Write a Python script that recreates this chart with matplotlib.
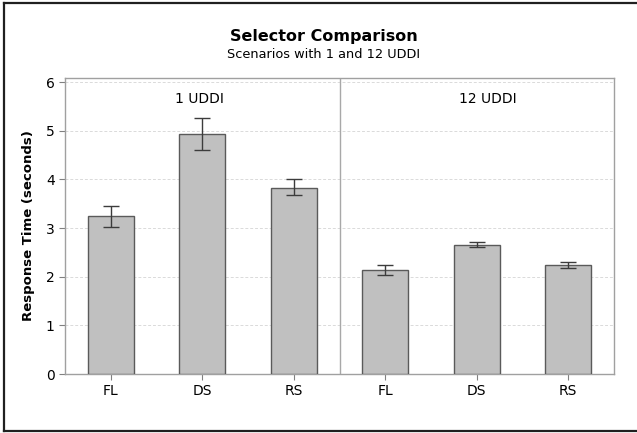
import matplotlib
matplotlib.use("Agg")
import matplotlib.pyplot as plt
from matplotlib.lines import Line2D
import numpy as np

# Mean response times and error bar extents, grouped by number of UDDI registries
selectors = ["FL", "DS", "RS", "FL", "DS", "RS"]
means = [3.25, 4.94, 3.83, 2.13, 2.66, 2.24]
err_low = [3.03, 4.61, 3.67, 2.03, 2.61, 2.17]
err_high = [3.46, 5.26, 4.00, 2.24, 2.72, 2.31]
panel_labels = ["1 UDDI", "12 UDDI"]
y_ticks = [0, 1, 2, 3, 4, 5, 6]

plt.rcParams["font.family"] = ["DejaVu Sans"]

W, H = 637, 433
fig = plt.figure(figsize=(W / 100, H / 100), dpi=100)
fig.patch.set_facecolor("white")

ax = fig.add_axes([65 / W, 1 - 374 / H, (614 - 65) / W, (374 - 77.7) / H])

x = np.arange(len(selectors))
means_a = np.array(means)
yerr = np.vstack([means_a - np.array(err_low), np.array(err_high) - means_a])

ax.bar(x, means, width=0.5, color="#c0c0c0", edgecolor="#5a5a5a",
       linewidth=1.0, zorder=3)
ax.errorbar(x, means, yerr=yerr, fmt="none", ecolor="#3c3c3c",
            elinewidth=1.0, capsize=5.8, capthick=1.0, zorder=4)

ax.set_xlim(-0.5, len(selectors) - 0.5)
ax.set_ylim(0, 6.09)
ax.set_yticks(y_ticks)
ax.set_xticks(x)
ax.set_xticklabels(selectors)

ax.yaxis.grid(True, linestyle=(0, (3, 2)), color="#dadada", linewidth=0.7, zorder=0)
ax.set_axisbelow(True)

# separator between the two scenario panels
ax.axvline(2.5, color="#a8a8a8", linewidth=1.0, zorder=2)

for s in ax.spines.values():
    s.set_color("#a0a0a0")
    s.set_linewidth(1.0)

ax.tick_params(axis="both", colors="#808080", length=4, width=0.8,
               labelcolor="black", labelsize=10)

ax.set_ylabel("Response Time (seconds)", fontsize=9.5, fontweight="bold", labelpad=8)

ax.text(0.97, 5.66, panel_labels[0], ha="center", va="center", fontsize=10)
ax.text(4.12, 5.66, panel_labels[1], ha="center", va="center", fontsize=10)

fig.text(324 / W, 1 - 36 / H, "Selector Comparison", ha="center", va="center",
         fontsize=11.5, fontweight="bold")
fig.text(324 / W, 1 - 55 / H, "Scenarios with 1 and 12 UDDI", ha="center",
         va="center", fontsize=9.3)

# window frame around the chart
frame = dict(color="#202020", linewidth=1.6, transform=fig.transFigure)
fig.lines.append(Line2D([4 / W, 1], [1 - 2.5 / H, 1 - 2.5 / H], **frame))
fig.lines.append(Line2D([4 / W, 4 / W], [1 - 2.5 / H, 1 - 431 / H], **frame))
fig.lines.append(Line2D([4 / W, 1], [1 - 431 / H, 1 - 431 / H], **frame))

fig.savefig("out.png", dpi=100, facecolor="white")
